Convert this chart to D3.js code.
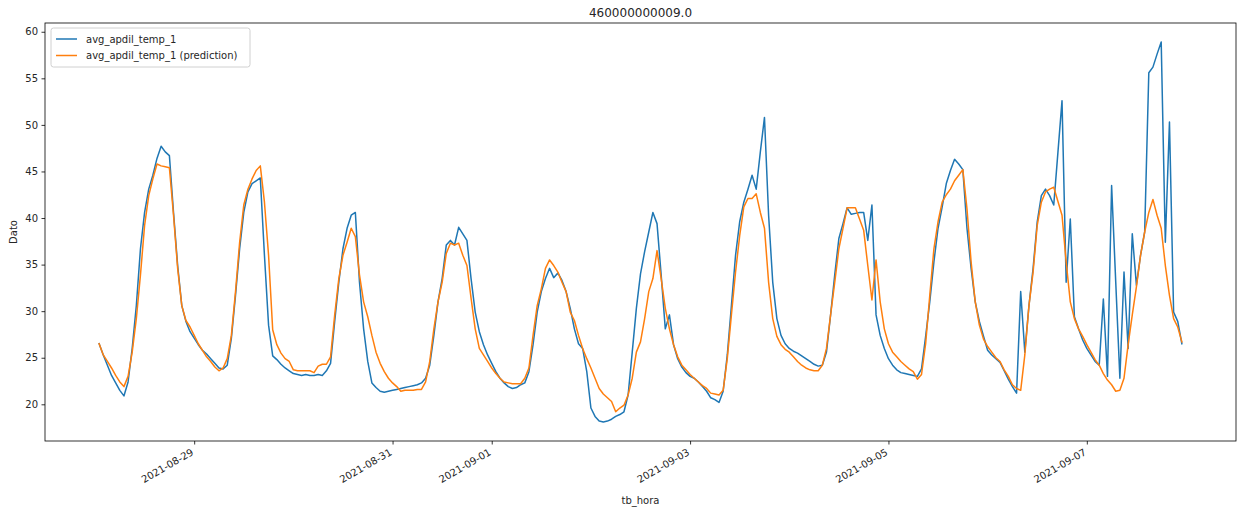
<!DOCTYPE html>
<html>
<head>
<meta charset="utf-8">
<script src="https://cdn.jsdelivr.net/npm/d3@7"></script>
<style>
  body { margin: 0; background: #fff; }
  text { font-family: "DejaVu Sans", sans-serif; fill: #262626; }
</style>
</head>
<body>
<script>
// hourly series, first reading 2021-08-28 01:00
var startTime = new Date(2021, 7, 28, 1, 0, 0);

var actual = [
  26.5,25.3,24.2,23.1,22.3,21.5,20.9,22.4,26.0,30.6,36.7,40.6,43.1,44.6,46.4,47.7,47.1,46.7,40.6,34.9,
  30.6,28.9,27.8,27.1,26.4,25.8,25.4,24.9,24.4,23.9,23.8,24.2,27.1,31.7,36.7,40.6,42.8,43.7,44.0,44.3,
  36.0,28.5,25.2,24.8,24.3,23.9,23.6,23.3,23.2,23.1,23.2,23.1,23.1,23.2,23.1,23.6,24.4,28.9,33.1,36.7,
  38.9,40.3,40.6,33.1,28.1,24.6,22.3,21.8,21.4,21.3,21.4,21.5,21.6,21.7,21.8,21.9,22.0,22.1,22.3,22.8,
  24.2,27.4,31.0,33.5,37.1,37.6,37.1,39.0,38.3,37.6,33.5,29.9,27.8,26.4,25.3,24.4,23.5,22.8,22.3,21.9,
  21.7,21.8,22.1,22.3,23.5,26.4,29.9,32.1,33.5,34.6,33.6,34.1,33.3,32.1,30.3,28.1,26.5,26.0,23.5,19.6,
  18.7,18.2,18.1,18.2,18.4,18.7,18.9,19.2,21.0,25.6,30.3,34.0,36.4,38.5,40.6,39.4,33.9,28.1,29.6,26.4,
  24.9,24.0,23.4,23.0,22.8,22.4,21.9,21.4,20.7,20.5,20.2,21.4,25.3,30.6,36.0,39.6,41.7,43.1,44.6,43.1,
  47.1,50.8,40.3,33.1,29.2,27.4,26.5,26.0,25.7,25.5,25.2,24.9,24.6,24.3,24.1,24.2,25.6,29.6,33.9,37.8,
  39.4,41.1,40.4,40.5,40.6,40.6,37.6,41.4,29.6,27.4,26.0,24.9,24.2,23.7,23.4,23.3,23.2,23.1,23.0,23.8,
  27.3,31.0,35.3,38.9,41.2,43.7,45.1,46.3,45.8,45.2,38.9,34.6,31.0,28.9,27.3,25.8,25.3,24.9,24.5,23.6,
  22.7,21.9,21.2,32.1,25.6,30.6,34.6,39.6,42.4,43.1,42.4,41.4,47.0,52.6,33.1,39.9,29.4,28.1,26.9,26.0,
  25.3,24.6,24.2,31.3,23.0,43.5,33.1,22.8,34.2,26.0,38.3,32.8,36.0,38.5,55.6,56.2,57.6,58.9,37.4,50.3,
  29.9,28.9,26.5
];

var prediction = [
  26.5,25.3,24.6,23.9,23.1,22.4,21.9,23.0,25.6,29.2,33.9,39.2,42.4,44.2,45.8,45.6,45.5,45.4,40.3,34.6,
  30.6,29.0,28.3,27.4,26.5,25.8,25.1,24.6,24.0,23.6,23.9,24.9,27.4,32.1,37.4,41.4,43.1,44.2,45.1,45.6,
  41.7,36.0,28.0,26.4,25.5,24.9,24.6,23.7,23.6,23.6,23.6,23.6,23.4,24.1,24.3,24.3,25.1,29.6,33.5,36.0,
  37.4,38.9,38.0,33.9,31.0,29.4,27.4,25.6,24.4,23.5,22.8,22.3,21.9,21.4,21.5,21.5,21.5,21.6,21.6,22.4,
  24.6,28.1,31.0,33.1,36.2,37.3,37.1,37.3,36.0,34.9,31.4,28.1,26.0,25.3,24.6,23.9,23.3,22.8,22.4,22.3,
  22.2,22.2,22.2,22.8,23.9,27.4,30.6,32.4,34.6,35.5,34.9,34.2,33.1,32.1,29.9,29.0,27.4,26.0,24.9,23.9,
  22.8,21.7,21.1,20.7,20.3,19.2,19.6,19.9,21.0,22.8,25.6,26.7,29.2,32.1,33.5,36.5,33.5,30.3,28.1,26.4,
  25.1,24.2,23.7,23.2,22.8,22.4,22.0,21.7,21.2,21.1,21.0,21.5,24.9,29.6,34.2,38.1,41.2,42.1,42.1,42.6,
  40.6,38.9,33.1,29.2,27.3,26.4,25.9,25.6,25.1,24.6,24.2,23.9,23.7,23.6,23.6,24.2,26.0,29.6,33.1,36.7,
  38.9,41.1,41.1,41.1,39.9,38.7,34.9,31.2,35.5,31.0,28.1,26.5,25.6,25.1,24.6,24.2,23.8,23.5,22.7,23.2,
  26.5,31.7,36.7,39.6,41.7,42.5,43.1,44.0,44.6,45.2,41.0,35.3,31.0,28.5,27.0,26.2,25.6,25.0,24.6,23.7,
  23.0,22.1,21.7,21.5,25.3,30.6,34.2,39.2,41.7,42.8,43.1,43.3,41.8,40.3,35.3,31.0,29.2,28.1,27.3,26.4,
  25.6,24.8,24.2,23.3,22.6,22.1,21.4,21.5,22.8,26.4,29.6,32.6,36.0,38.5,40.6,42.0,40.3,38.9,34.9,31.7,
  29.2,28.3,26.7
];

var seriesNames = ["avg_apdil_temp_1", "avg_apdil_temp_1 (prediction)"];
var seriesColors = ["#1f77b4", "#ff7f0e"];

var yTicks = [20, 25, 30, 35, 40, 45, 50, 55, 60];
var xTickDates = ["2021-08-29", "2021-08-31", "2021-09-01", "2021-09-03", "2021-09-05", "2021-09-07"];

var chartTitle = "460000000009.0";
var xTitle = "tb_hora";
var yTitle = "Dato";

// SIZES
var W = 1241, H = 510;
var margin = {top: 23, right: 5, bottom: 69, left: 45};
var plotW = W - margin.left - margin.right,
    plotH = H - margin.top - margin.bottom;

var times = actual.map(function(d, i) {
    return new Date(startTime.getTime() + i * 3600 * 1000);
});

// matplotlib style 5% padding
var t0 = +times[0], t1 = +times[times.length - 1];
var tPad = (t1 - t0) * 0.05;
var x = d3.scaleTime()
    .domain([new Date(t0 - tPad), new Date(t1 + tPad)])
    .range([0, plotW]);

var allVals = actual.concat(prediction);
var vMin = d3.min(allVals), vMax = d3.max(allVals);
var vPad = (vMax - vMin) * 0.05;
var y = d3.scaleLinear()
    .domain([vMin - vPad, vMax + vPad])
    .range([plotH, 0]);

var svg = d3.select("body").append("svg")
    .attr("width", W)
    .attr("height", H);

svg.append("rect").attr("width", W).attr("height", H).attr("fill", "#fff");

var g = svg.append("g")
    .attr("transform", "translate(" + margin.left + "," + margin.top + ")");

// LINES
var parseDay = d3.timeParse("%Y-%m-%d");
var line = d3.line()
    .x(function(d, i) { return x(times[i]); })
    .y(function(d) { return y(d); });

[actual, prediction].forEach(function(s, k) {
    g.append("path")
        .datum(s)
        .attr("fill", "none")
        .attr("stroke", seriesColors[k])
        .attr("stroke-width", 1.5)
        .attr("stroke-linejoin", "round")
        .attr("stroke-linecap", "square")
        .attr("d", line);
});

// AXES
var xAxis = d3.axisBottom(x)
    .tickValues(xTickDates.map(parseDay))
    .tickFormat(d3.timeFormat("%Y-%m-%d"))
    .tickSizeInner(3.5).tickSizeOuter(0).tickPadding(3.5);

var yAxis = d3.axisLeft(y)
    .tickValues(yTicks)
    .tickFormat(d3.format("d"))
    .tickSizeInner(3.5).tickSizeOuter(0).tickPadding(3.5);

var gx = g.append("g")
    .attr("transform", "translate(0," + plotH + ")")
    .call(xAxis);
gx.select(".domain").remove();
gx.selectAll(".tick line").attr("stroke", "#000").attr("stroke-width", 0.8);
gx.selectAll(".tick text")
    .attr("font-size", 10)
    .attr("text-anchor", "end")
    .attr("dy", null)
    .attr("y", null)
    .attr("dominant-baseline", "hanging")
    .attr("transform", "translate(-4,7) rotate(-30)");

var gy = g.append("g").call(yAxis);
gy.select(".domain").remove();
gy.selectAll(".tick line").attr("stroke", "#000").attr("stroke-width", 0.8);
gy.selectAll(".tick text").attr("font-size", 10);

// frame
g.append("rect")
    .attr("width", plotW).attr("height", plotH)
    .attr("fill", "none")
    .attr("stroke", "#000")
    .attr("stroke-width", 0.8);

// TITLES
svg.append("text")
    .attr("x", margin.left + plotW / 2)
    .attr("y", 17)
    .attr("text-anchor", "middle")
    .attr("font-size", 12)
    .text(chartTitle);

svg.append("text")
    .attr("x", margin.left + plotW / 2)
    .attr("y", 504)
    .attr("text-anchor", "middle")
    .attr("font-size", 10)
    .text(xTitle);

svg.append("text")
    .attr("transform", "translate(17," + (margin.top + plotH / 2) + ") rotate(-90)")
    .attr("text-anchor", "middle")
    .attr("font-size", 10)
    .text(yTitle);

// LEGEND
var lg = g.append("g").attr("transform", "translate(6,5)");
lg.append("rect")
    .attr("width", 199).attr("height", 39)
    .attr("rx", 2.5)
    .attr("fill", "#fff").attr("fill-opacity", 0.8)
    .attr("stroke", "#d0d0d0").attr("stroke-width", 1);

seriesNames.forEach(function(name, k) {
    var ly = 11 + k * 16.5;
    lg.append("line")
        .attr("x1", 5).attr("x2", 26)
        .attr("y1", ly).attr("y2", ly)
        .attr("stroke", seriesColors[k])
        .attr("stroke-width", 1.5);
    lg.append("text")
        .attr("x", 35).attr("y", ly + 3.6)
        .attr("font-size", 10)
        .text(name);
});
</script>
</body>
</html>
